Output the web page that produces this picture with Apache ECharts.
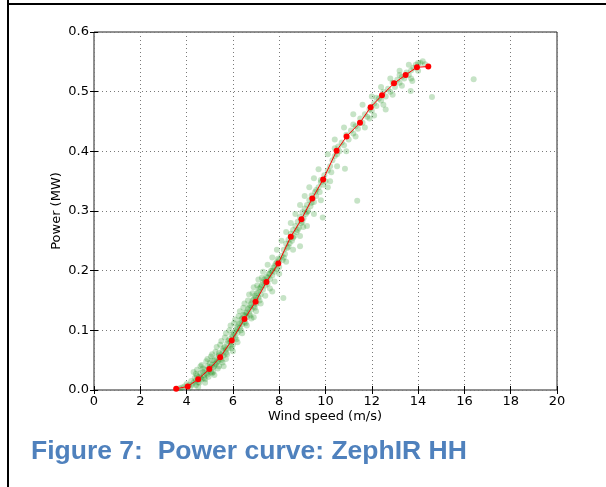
<!DOCTYPE html>
<html><head><meta charset="utf-8">
<script src="https://cdn.jsdelivr.net/npm/echarts@6/dist/echarts.min.js"></script>
<style>html,body{margin:0;padding:0;background:#fff}#c{width:606px;height:487px}</style>
</head><body><div id="c"></div>
<script>
// Binned power curve (red)
const binSpeed = [3.55,4.05,4.5,4.98,5.45,5.95,6.5,6.98,7.45,7.96,8.5,8.96,9.43,9.9,10.48,10.91,11.49,11.95,12.44,12.96,13.46,13.95,14.44];
const binPower = [0.002,0.006,0.018,0.035,0.055,0.083,0.119,0.148,0.181,0.212,0.257,0.286,0.321,0.353,0.401,0.425,0.448,0.474,0.494,0.514,0.528,0.541,0.542];
// Raw 10-min points (green)
const rawSpeed = [3.7,3.8,3.9,4.0,4.1,4.2,4.15,4.3,4.35,4.4,4.45,4.5,4.55,4.6,4.65,4.7,4.75,4.8,4.85,4.9,4.95,5.0,5.05,5.1,5.15,5.2,5.25,5.3,5.35,5.4,5.45,5.5,5.55,5.6,5.65,5.7,5.75,5.8,5.85,5.9,5.95,6.0,6.05,6.1,6.15,6.2,6.25,6.3,6.35,6.4,6.45,6.5,6.55,6.6,6.65,6.7,6.75,6.8,6.85,6.9,6.95,7.0,7.05,7.1,7.15,7.2,7.25,7.3,7.35,7.4,7.45,7.5,7.55,7.6,7.65,7.7,7.75,7.8,7.85,7.9,7.95,8.0,8.1,8.15,8.2,8.25,8.3,8.35,8.4,8.45,8.5,8.55,8.6,8.65,8.7,8.75,8.8,8.85,8.9,8.95,9.0,9.05,9.1,9.15,9.2,9.25,9.3,9.35,9.4,9.5,9.55,9.6,9.7,9.75,9.8,9.9,9.95,10.0,10.1,10.2,10.25,10.3,10.4,10.5,10.55,10.6,10.7,10.8,10.9,11.0,11.1,11.2,11.3,11.4,11.5,11.6,11.7,11.8,11.9,12.0,12.1,12.2,12.3,12.4,12.5,12.6,12.7,12.8,12.9,13.0,13.1,13.2,13.3,13.4,13.5,13.6,13.7,13.8,13.9,14.0,14.1,14.2,14.3,
16.4,14.6,13.75,13.68,11.37,10.84,8.9,9.04,9.88,8.18,12.6,11.9,10.2,7.7,6.9,5.2,5.6,4.8,
4.25,4.4,4.6,4.7,4.9,5.0,5.1,5.2,5.3,5.4,5.5,5.6,5.7,5.8,5.9,6.0,6.1,6.2,6.3,6.4,6.5,6.6,6.7,6.8,6.9,7.0,7.1,7.2,7.3,7.4,7.5,7.6,7.7,7.8,7.9,8.0,8.2,8.4,8.6,8.8,9.0,9.2,9.4,9.6,9.8,10.4,11.2,12.2,13.2,14.0,
4.3,4.6,4.9,5.1,5.3,5.5,5.7,5.9,6.1,6.3,6.5,6.7,6.9,7.1,7.3,7.5,7.7,7.9,8.1,8.3,8.5,8.7,8.9,9.1,9.3,9.5,9.7,10.1,10.4,10.8,11.2,11.6,12.0,12.4,12.8,13.2,13.6,
4.5,4.8,5.1,5.4,5.7,6.0,6.2,6.4,6.6,6.8,7.0,7.2,7.4,7.6,7.8,8.0,8.3,8.6,8.9,9.2,9.5,9.8,10.1,10.5,10.9,11.3,11.7,12.1,12.5,12.9,13.3,13.7,
4.4,4.55,4.75,4.95,5.15,5.35,5.55,5.75,5.95,6.15,6.35,6.55,6.75,6.95,7.15,
4.45,4.65,4.85,5.05,5.25,5.45,5.65,5.85,6.05,6.25,6.45,6.65,6.85,7.05,7.25];
const rawPower = [0.003,0.004,0.006,0.010,0.008,0.015,0.004,0.012,0.020,0.016,0.024,0.013,0.022,0.028,0.018,0.030,0.025,0.034,0.028,0.040,0.032,0.045,0.030,0.042,0.038,0.050,0.044,0.055,0.048,0.062,0.052,0.060,0.066,0.058,0.072,0.068,0.078,0.070,0.085,0.080,0.092,0.076,0.095,0.088,0.102,0.096,0.110,0.104,0.118,0.110,0.126,0.114,0.130,0.122,0.136,0.128,0.142,0.135,0.150,0.140,0.158,0.145,0.162,0.155,0.170,0.160,0.176,0.168,0.185,0.175,0.190,0.178,0.195,0.186,0.200,0.192,0.205,0.198,0.212,0.203,0.220,0.206,0.225,0.218,0.235,0.228,0.245,0.238,0.252,0.246,0.262,0.250,0.268,0.258,0.275,0.265,0.282,0.272,0.290,0.280,0.298,0.288,0.304,0.295,0.310,0.300,0.318,0.308,0.326,0.315,0.332,0.325,0.340,0.332,0.348,0.344,0.360,0.350,0.368,0.375,0.365,0.385,0.392,0.395,0.408,0.400,0.415,0.410,0.428,0.420,0.435,0.430,0.442,0.438,0.455,0.448,0.462,0.458,0.470,0.468,0.480,0.476,0.488,0.485,0.500,0.492,0.505,0.500,0.515,0.508,0.520,0.515,0.525,0.522,0.532,0.528,0.536,0.540,0.545,0.535,0.548,0.551,0.546,
0.521,0.491,0.518,0.501,0.317,0.371,0.241,0.273,0.289,0.154,0.470,0.455,0.350,0.165,0.122,0.025,0.040,0.012,
0.009,0.027,0.020,0.036,0.026,0.038,0.050,0.040,0.046,0.058,0.050,0.070,0.062,0.082,0.074,0.090,0.098,0.105,0.112,0.120,0.125,0.130,0.138,0.145,0.152,0.155,0.165,0.172,0.180,0.182,0.188,0.195,0.200,0.208,0.214,0.218,0.222,0.240,0.255,0.268,0.282,0.298,0.314,0.335,0.352,0.405,0.445,0.490,0.528,0.548,
0.030,0.040,0.052,0.060,0.072,0.082,0.095,0.108,0.118,0.132,0.145,0.160,0.172,0.185,0.198,0.210,0.222,0.235,0.250,0.265,0.280,0.295,0.310,0.325,0.340,0.355,0.370,0.395,0.420,0.440,0.462,0.478,0.492,0.508,0.522,0.535,0.545,
0.005,0.018,0.028,0.040,0.052,0.065,0.080,0.095,0.108,0.120,0.132,0.145,0.158,0.170,0.182,0.195,0.215,0.235,0.258,0.275,0.295,0.318,0.340,0.375,0.400,0.425,0.440,0.460,0.478,0.495,0.510,0.522,
0.008,0.012,0.020,0.022,0.030,0.036,0.046,0.060,0.070,0.085,0.100,0.112,0.125,0.138,0.150,
0.034,0.042,0.048,0.056,0.064,0.076,0.088,0.100,0.112,0.124,0.138,0.150,0.162,0.175,0.188];
const xTicks = [0,2,4,6,8,10,12,14,16,18,20];
const yTicks = [0.0,0.1,0.2,0.3,0.4,0.5,0.6];
const xLabel = 'Wind speed (m/s)';
const yLabel = 'Power (MW)';
const caption = 'Figure 7:  Power curve: ZephIR HH';

const chart = echarts.init(document.getElementById('c'), null, {renderer:'canvas'});
const font = 'DejaVu Sans';
const tickCommon = {inside:true, length:4, lineStyle:{color:'#000', width:1}};
const gridLine = {show:true, lineStyle:{color:'#7a7a7a', type:[1,3], width:1}};
chart.setOption({
  animation:false,
  backgroundColor:'#fff',
  grid:{left:94, right:49, top:32, bottom:97, show:true, borderColor:'#222', borderWidth:1},
  xAxis:[
    {type:'value', min:xTicks[0], max:xTicks[xTicks.length-1], interval:2, position:'bottom',
     axisLine:{show:false}, axisTick:tickCommon, splitLine:gridLine,
     axisLabel:{color:'#000', fontFamily:font, fontSize:13, margin:5}},
    {type:'value', min:0, max:20, interval:2, position:'top',
     axisLine:{show:false}, axisTick:tickCommon, splitLine:{show:false}, axisLabel:{show:false}}
  ],
  yAxis:[
    {type:'value', min:yTicks[0], max:yTicks[yTicks.length-1], interval:0.1, position:'left',
     axisLine:{show:false}, axisTick:tickCommon, splitLine:gridLine,
     axisLabel:{color:'#000', fontFamily:font, fontSize:13, margin:5, formatter:v=>v.toFixed(1)}},
    {type:'value', min:0, max:0.6, interval:0.1, position:'right',
     axisLine:{show:false}, axisTick:tickCommon, splitLine:{show:false}, axisLabel:{show:false}}
  ],
  series:[
    {type:'scatter', data:rawSpeed.map((x,i)=>[x,rawPower[i]]), symbol:'circle', symbolSize:6,
     itemStyle:{color:'rgba(0,128,0,0.28)'}, z:2},
    {type:'line', data:binSpeed.map((x,i)=>[x,binPower[i]]), symbol:'circle', symbolSize:6,
     lineStyle:{color:'#ff0000', width:1}, itemStyle:{color:'#ff0000'}, z:3}
  ],
  graphic:[
    {type:'line', shape:{x1:8, y1:0, x2:8, y2:487}, style:{stroke:'#000', lineWidth:2}},
    {type:'line', shape:{x1:8, y1:4, x2:606, y2:4}, style:{stroke:'#000', lineWidth:2}},
    {type:'text', x:325, y:417, style:{text:xLabel, font:'13px "DejaVu Sans"', fill:'#000', align:'center', verticalAlign:'middle'}},
    {type:'text', x:57, y:211, rotation:Math.PI/2, style:{text:yLabel, font:'13px "DejaVu Sans"', fill:'#000', align:'center', verticalAlign:'middle'}},
    {type:'text', x:31, y:452, style:{text:caption, font:'bold 26.5px "Liberation Sans"', fill:'#4f81bd', align:'left', verticalAlign:'middle'}}
  ]
});
</script></body></html>
